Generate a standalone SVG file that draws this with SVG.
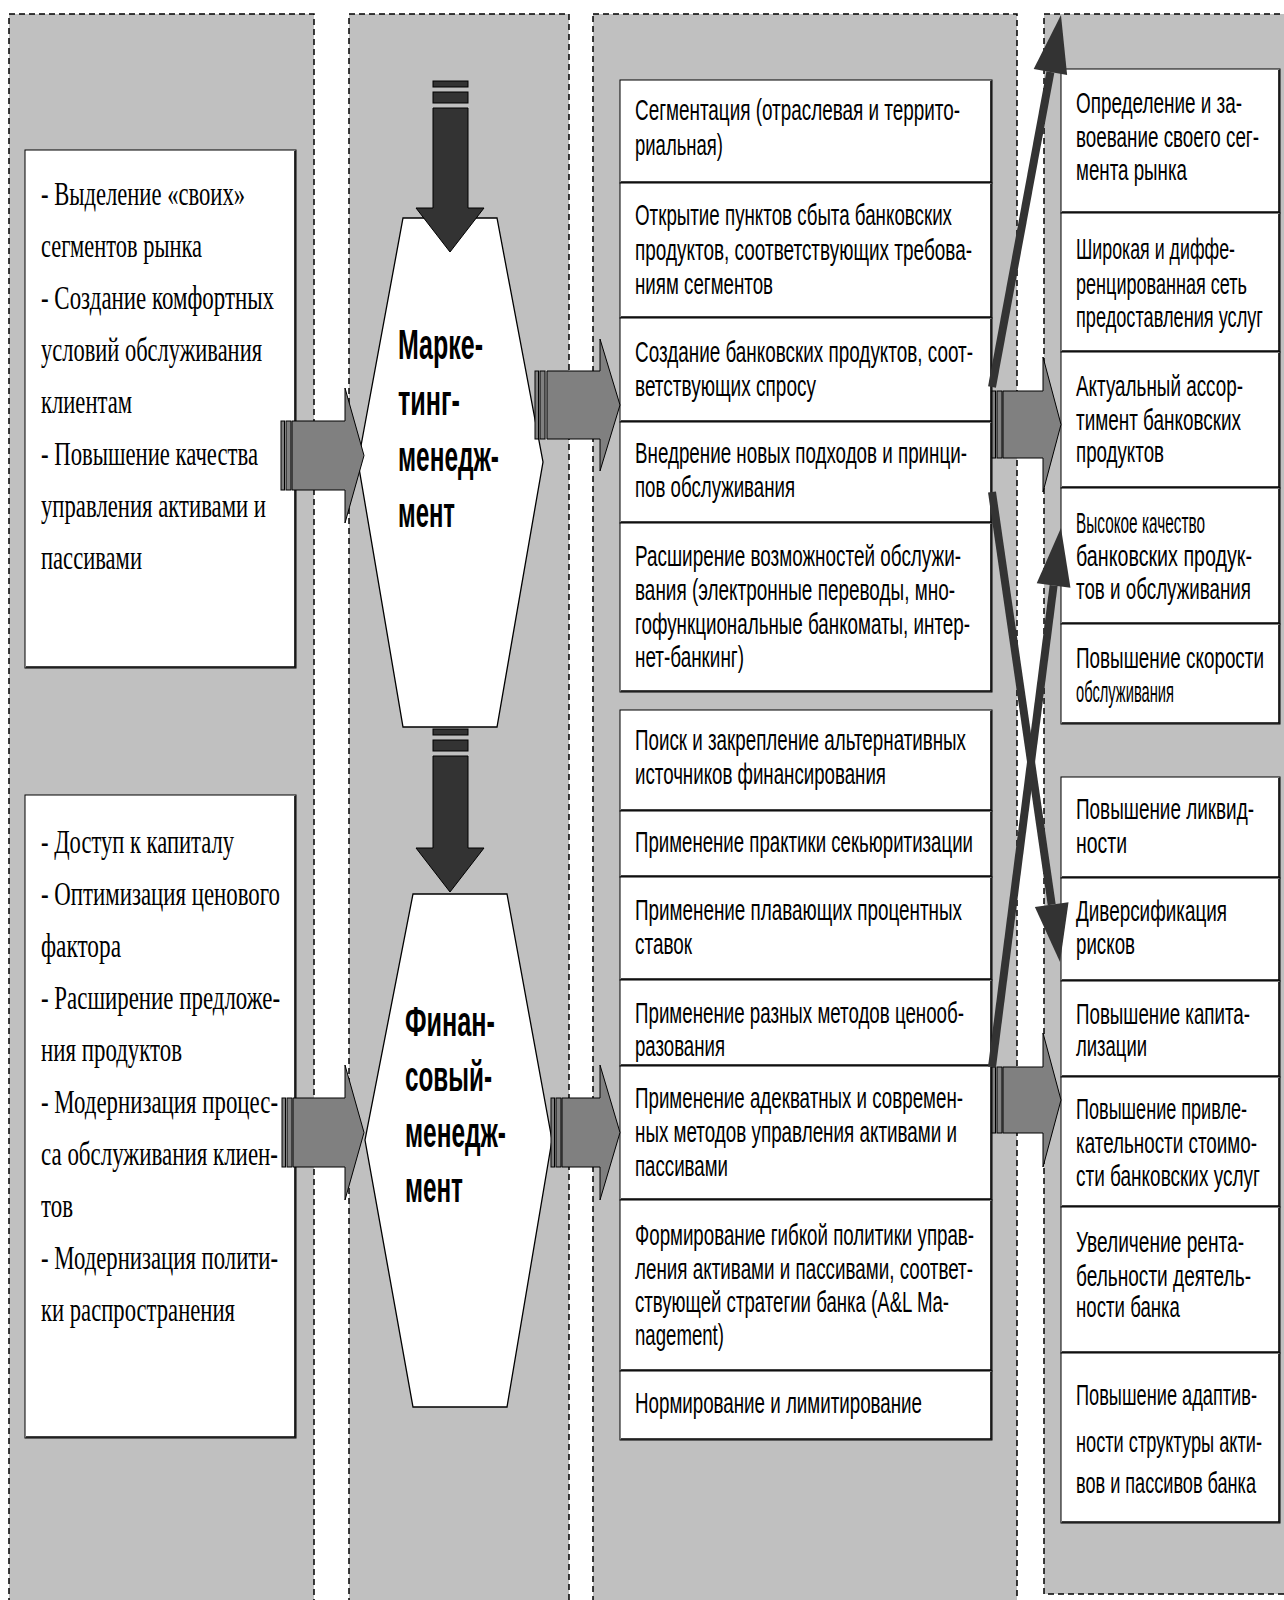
<svg xmlns="http://www.w3.org/2000/svg" width="1284" height="1600" viewBox="0 0 1284 1600">
<style>
.col{fill:#c0c0c0;stroke:#000;stroke-width:1.5;stroke-dasharray:6 4}
.box{fill:#fff;stroke:#000;stroke-width:1}
.sh{fill:none;stroke:#000;stroke-width:1.6}
.hex{fill:#fff;stroke:#000;stroke-width:1.3}
.ga{fill:#808080;stroke:#000;stroke-width:1}
.da{fill:#333;stroke:#000;stroke-width:1}
.ln{fill:none;stroke:#333;stroke-width:8}
.t{font-family:"Liberation Sans",Arial,sans-serif;font-size:29px;fill:#000}
.s{font-family:"Liberation Serif","Times New Roman",serif;font-size:34px;fill:#000}
.h{font-family:"Liberation Sans",Arial,sans-serif;font-size:43px;font-weight:bold;fill:#000}
</style>
<defs>
<marker id="ah" markerUnits="userSpaceOnUse" viewBox="0 -17 58 34" markerWidth="58" markerHeight="34" refX="0" refY="0" orient="auto" overflow="visible">
<path d="M0,-17 L58,0 L0,17 Z" fill="#333"/>
</marker>
</defs>

<g id="columns">
<rect class="col" x="9" y="14" width="305" height="1620"/>
<rect class="col" x="349" y="14" width="220" height="1620"/>
<rect class="col" x="593" y="14" width="424" height="1620"/>
<rect class="col" x="1044" y="14" width="260" height="1580"/>
</g>

<g id="left-marketing">
<rect class="box" x="25" y="150" width="271" height="518"/>
<path class="sh" d="M26,667 H295 V151"/>
<text class="s" x="41" y="205" textLength="204" lengthAdjust="spacingAndGlyphs">- Выделение «своих»</text>
<text class="s" x="41" y="257" textLength="161" lengthAdjust="spacingAndGlyphs">сегментов рынка</text>
<text class="s" x="41" y="309" textLength="233" lengthAdjust="spacingAndGlyphs">- Создание комфортных</text>
<text class="s" x="41" y="361" textLength="221" lengthAdjust="spacingAndGlyphs">условий обслуживания</text>
<text class="s" x="41" y="413" textLength="91" lengthAdjust="spacingAndGlyphs">клиентам</text>
<text class="s" x="41" y="465" textLength="217" lengthAdjust="spacingAndGlyphs">- Повышение качества</text>
<text class="s" x="41" y="517" textLength="225" lengthAdjust="spacingAndGlyphs">управления активами и</text>
<text class="s" x="41" y="569" textLength="101" lengthAdjust="spacingAndGlyphs">пассивами</text>
</g>

<g id="left-finance">
<rect class="box" x="25" y="795" width="271" height="643"/>
<path class="sh" d="M26,1437 H295 V796"/>
<text class="s" x="41" y="853" textLength="193" lengthAdjust="spacingAndGlyphs">- Доступ к капиталу</text>
<text class="s" x="41" y="905" textLength="239" lengthAdjust="spacingAndGlyphs">- Оптимизация ценового</text>
<text class="s" x="41" y="957" textLength="80" lengthAdjust="spacingAndGlyphs">фактора</text>
<text class="s" x="41" y="1009" textLength="239" lengthAdjust="spacingAndGlyphs">- Расширение предложе-</text>
<text class="s" x="41" y="1061" textLength="141" lengthAdjust="spacingAndGlyphs">ния продуктов</text>
<text class="s" x="41" y="1113" textLength="237" lengthAdjust="spacingAndGlyphs">- Модернизация процес-</text>
<text class="s" x="41" y="1165" textLength="237" lengthAdjust="spacingAndGlyphs">са обслуживания клиен-</text>
<text class="s" x="41" y="1217" textLength="32" lengthAdjust="spacingAndGlyphs">тов</text>
<text class="s" x="41" y="1269" textLength="237" lengthAdjust="spacingAndGlyphs">- Модернизация полити-</text>
<text class="s" x="41" y="1321" textLength="194" lengthAdjust="spacingAndGlyphs">ки распространения</text>
</g>

<g id="hex-marketing">
<polygon class="hex" points="403,218 497,218 543,462 497,727 403,727 358,462"/>
<text class="h" x="398" y="359" textLength="85" lengthAdjust="spacingAndGlyphs">Марке-</text>
<text class="h" x="398" y="415" textLength="62" lengthAdjust="spacingAndGlyphs">тинг-</text>
<text class="h" x="398" y="471" textLength="101" lengthAdjust="spacingAndGlyphs">менедж-</text>
<text class="h" x="398" y="527" textLength="57" lengthAdjust="spacingAndGlyphs">мент</text>
</g>

<g id="hex-finance">
<polygon class="hex" points="413,894 507,894 552,1140 507,1407 413,1407 365,1140"/>
<text class="h" x="405" y="1036" textLength="90" lengthAdjust="spacingAndGlyphs">Финан-</text>
<text class="h" x="405" y="1091" textLength="87" lengthAdjust="spacingAndGlyphs">совый-</text>
<text class="h" x="405" y="1147" textLength="101" lengthAdjust="spacingAndGlyphs">менедж-</text>
<text class="h" x="405" y="1202" textLength="58" lengthAdjust="spacingAndGlyphs">мент</text>
</g>

<g id="m1"><rect class="box" x="620" y="80" width="372" height="103"/><path class="sh" d="M621,182 H991 V81"/>
<text class="t" x="635" y="120" textLength="325" lengthAdjust="spacingAndGlyphs">Сегментация (отраслевая и террито-</text>
<text class="t" x="635" y="155" textLength="88" lengthAdjust="spacingAndGlyphs">риальная)</text></g>
<g id="m2"><rect class="box" x="620" y="183" width="372" height="135"/><path class="sh" d="M621,317 H991 V184"/>
<text class="t" x="635" y="225" textLength="317" lengthAdjust="spacingAndGlyphs">Открытие пунктов сбыта банковских</text>
<text class="t" x="635" y="260" textLength="337" lengthAdjust="spacingAndGlyphs">продуктов, соответствующих требова-</text>
<text class="t" x="635" y="294" textLength="138" lengthAdjust="spacingAndGlyphs">ниям сегментов</text></g>
<g id="m3"><rect class="box" x="620" y="318" width="372" height="104"/><path class="sh" d="M621,421 H991 V319"/>
<text class="t" x="635" y="362" textLength="338" lengthAdjust="spacingAndGlyphs">Создание банковских продуктов, соот-</text>
<text class="t" x="635" y="396" textLength="181" lengthAdjust="spacingAndGlyphs">ветствующих спросу</text></g>
<g id="m4"><rect class="box" x="620" y="422" width="372" height="101"/><path class="sh" d="M621,522 H991 V423"/>
<text class="t" x="635" y="463" textLength="332" lengthAdjust="spacingAndGlyphs">Внедрение новых подходов и принци-</text>
<text class="t" x="635" y="497" textLength="160" lengthAdjust="spacingAndGlyphs">пов обслуживания</text></g>
<g id="m5"><rect class="box" x="620" y="523" width="372" height="169"/><path class="sh" d="M621,691 H991 V524"/>
<text class="t" x="635" y="566" textLength="326" lengthAdjust="spacingAndGlyphs">Расширение возможностей обслужи-</text>
<text class="t" x="635" y="600" textLength="320" lengthAdjust="spacingAndGlyphs">вания (электронные переводы, мно-</text>
<text class="t" x="635" y="634" textLength="335" lengthAdjust="spacingAndGlyphs">гофункциональные банкоматы, интер-</text>
<text class="t" x="635" y="667" textLength="109" lengthAdjust="spacingAndGlyphs">нет-банкинг)</text></g>

<g id="f1"><rect class="box" x="620" y="710" width="372" height="101"/><path class="sh" d="M621,810 H991 V711"/>
<text class="t" x="635" y="750" textLength="331" lengthAdjust="spacingAndGlyphs">Поиск и закрепление альтернативных</text>
<text class="t" x="635" y="784" textLength="251" lengthAdjust="spacingAndGlyphs">источников финансирования</text></g>
<g id="f2"><rect class="box" x="620" y="811" width="372" height="66"/><path class="sh" d="M621,876 H991 V812"/>
<text class="t" x="635" y="852" textLength="338" lengthAdjust="spacingAndGlyphs">Применение практики секьюритизации</text></g>
<g id="f3"><rect class="box" x="620" y="877" width="372" height="103"/><path class="sh" d="M621,979 H991 V878"/>
<text class="t" x="635" y="920" textLength="327" lengthAdjust="spacingAndGlyphs">Применение плавающих процентных</text>
<text class="t" x="635" y="954" textLength="57" lengthAdjust="spacingAndGlyphs">ставок</text></g>
<g id="f4"><rect class="box" x="620" y="980" width="372" height="86"/><path class="sh" d="M621,1065 H991 V981"/>
<text class="t" x="635" y="1023" textLength="329" lengthAdjust="spacingAndGlyphs">Применение разных методов ценооб-</text>
<text class="t" x="635" y="1056" textLength="90" lengthAdjust="spacingAndGlyphs">разования</text></g>
<g id="f5"><rect class="box" x="620" y="1066" width="372" height="134"/><path class="sh" d="M621,1199 H991 V1067"/>
<text class="t" x="635" y="1108" textLength="328" lengthAdjust="spacingAndGlyphs">Применение адекватных и современ-</text>
<text class="t" x="635" y="1142" textLength="322" lengthAdjust="spacingAndGlyphs">ных методов управления активами и</text>
<text class="t" x="635" y="1176" textLength="93" lengthAdjust="spacingAndGlyphs">пассивами</text></g>
<g id="f6"><rect class="box" x="620" y="1200" width="372" height="171"/><path class="sh" d="M621,1370 H991 V1201"/>
<text class="t" x="635" y="1245" textLength="339" lengthAdjust="spacingAndGlyphs">Формирование гибкой политики управ-</text>
<text class="t" x="635" y="1279" textLength="338" lengthAdjust="spacingAndGlyphs">ления активами и пассивами, соответ-</text>
<text class="t" x="635" y="1312" textLength="314" lengthAdjust="spacingAndGlyphs">ствующей стратегии банка (A&amp;L Ma-</text>
<text class="t" x="635" y="1345" textLength="89" lengthAdjust="spacingAndGlyphs">nagement)</text></g>
<g id="f7"><rect class="box" x="620" y="1371" width="372" height="69"/><path class="sh" d="M621,1439 H991 V1372"/>
<text class="t" x="635" y="1413" textLength="287" lengthAdjust="spacingAndGlyphs">Нормирование и лимитирование</text></g>

<g id="r1"><rect class="box" x="1061" y="69" width="219" height="144"/><path class="sh" d="M1062,212 H1279 V70"/>
<text class="t" x="1076" y="113" textLength="166" lengthAdjust="spacingAndGlyphs">Определение и за-</text>
<text class="t" x="1076" y="147" textLength="183" lengthAdjust="spacingAndGlyphs">воевание своего сег-</text>
<text class="t" x="1076" y="180" textLength="111" lengthAdjust="spacingAndGlyphs">мента рынка</text></g>
<g id="r2"><rect class="box" x="1061" y="213" width="219" height="139"/><path class="sh" d="M1062,351 H1279 V214"/>
<text class="t" x="1076" y="259" textLength="159" lengthAdjust="spacingAndGlyphs">Широкая и диффе-</text>
<text class="t" x="1076" y="294" textLength="171" lengthAdjust="spacingAndGlyphs">ренцированная сеть</text>
<text class="t" x="1076" y="327" textLength="187" lengthAdjust="spacingAndGlyphs">предоставления услуг</text></g>
<g id="r3"><rect class="box" x="1061" y="352" width="219" height="136"/><path class="sh" d="M1062,487 H1279 V353"/>
<text class="t" x="1076" y="396" textLength="167" lengthAdjust="spacingAndGlyphs">Актуальный ассор-</text>
<text class="t" x="1076" y="430" textLength="165" lengthAdjust="spacingAndGlyphs">тимент банковских</text>
<text class="t" x="1076" y="462" textLength="88" lengthAdjust="spacingAndGlyphs">продуктов</text></g>
<g id="r4"><rect class="box" x="1061" y="488" width="219" height="136"/><path class="sh" d="M1062,623 H1279 V489"/>
<text class="t" x="1076" y="533" textLength="129" lengthAdjust="spacingAndGlyphs">Высокое качество</text>
<text class="t" x="1076" y="566" textLength="176" lengthAdjust="spacingAndGlyphs">банковских продук-</text>
<text class="t" x="1076" y="599" textLength="175" lengthAdjust="spacingAndGlyphs">тов и обслуживания</text></g>
<g id="r5"><rect class="box" x="1061" y="624" width="219" height="100"/><path class="sh" d="M1062,723 H1279 V625"/>
<text class="t" x="1076" y="668" textLength="188" lengthAdjust="spacingAndGlyphs">Повышение скорости</text>
<text class="t" x="1076" y="702" textLength="98" lengthAdjust="spacingAndGlyphs">обслуживания</text></g>

<g id="r6"><rect class="box" x="1061" y="777" width="219" height="101"/><path class="sh" d="M1062,877 H1279 V778"/>
<text class="t" x="1076" y="819" textLength="178" lengthAdjust="spacingAndGlyphs">Повышение ликвид-</text>
<text class="t" x="1076" y="853" textLength="51" lengthAdjust="spacingAndGlyphs">ности</text></g>
<g id="r7"><rect class="box" x="1061" y="878" width="219" height="103"/><path class="sh" d="M1062,980 H1279 V879"/>
<text class="t" x="1076" y="921" textLength="151" lengthAdjust="spacingAndGlyphs">Диверсификация</text>
<text class="t" x="1076" y="954" textLength="59" lengthAdjust="spacingAndGlyphs">рисков</text></g>
<g id="r8"><rect class="box" x="1061" y="981" width="219" height="96"/><path class="sh" d="M1062,1076 H1279 V982"/>
<text class="t" x="1076" y="1024" textLength="174" lengthAdjust="spacingAndGlyphs">Повышение капита-</text>
<text class="t" x="1076" y="1056" textLength="71" lengthAdjust="spacingAndGlyphs">лизации</text></g>
<g id="r9"><rect class="box" x="1061" y="1077" width="219" height="130"/><path class="sh" d="M1062,1206 H1279 V1078"/>
<text class="t" x="1076" y="1119" textLength="171" lengthAdjust="spacingAndGlyphs">Повышение привле-</text>
<text class="t" x="1076" y="1153" textLength="181" lengthAdjust="spacingAndGlyphs">кательности стоимо-</text>
<text class="t" x="1076" y="1186" textLength="184" lengthAdjust="spacingAndGlyphs">сти банковских услуг</text></g>
<g id="r10"><rect class="box" x="1061" y="1207" width="219" height="146"/><path class="sh" d="M1062,1352 H1279 V1208"/>
<text class="t" x="1076" y="1252" textLength="168" lengthAdjust="spacingAndGlyphs">Увеличение рента-</text>
<text class="t" x="1076" y="1286" textLength="175" lengthAdjust="spacingAndGlyphs">бельности деятель-</text>
<text class="t" x="1076" y="1317" textLength="104" lengthAdjust="spacingAndGlyphs">ности банка</text></g>
<g id="r11"><rect class="box" x="1061" y="1353" width="219" height="170"/><path class="sh" d="M1062,1522 H1279 V1354"/>
<text class="t" x="1076" y="1405" textLength="181" lengthAdjust="spacingAndGlyphs">Повышение адаптив-</text>
<text class="t" x="1076" y="1452" textLength="186" lengthAdjust="spacingAndGlyphs">ности структуры акти-</text>
<text class="t" x="1076" y="1493" textLength="180" lengthAdjust="spacingAndGlyphs">вов и пассивов банка</text></g>

<g id="connectors">
<g id="arr-left-m">
<rect class="ga" x="281" y="421" width="3.5" height="69"/><rect class="ga" x="286" y="421" width="5" height="69"/>
<path class="ga" d="M292,421 H345 V388 L364,455.5 L345,523 V490 H292 Z"/></g>
<g id="arr-left-f">
<rect class="ga" x="282" y="1098" width="3.5" height="69"/><rect class="ga" x="287" y="1098" width="5" height="69"/>
<path class="ga" d="M293,1098 H345 V1065 L364,1132.5 L345,1200 V1167 H293 Z"/></g>
<g id="arr-right-m">
<rect class="ga" x="535" y="371" width="3.5" height="68"/><rect class="ga" x="540" y="371" width="5" height="68"/>
<path class="ga" d="M547,371 H600 V339 L620,405 L600,471 V439 H547 Z"/></g>
<g id="arr-right-f">
<rect class="ga" x="551" y="1098" width="3.5" height="69"/><rect class="ga" x="556" y="1098" width="5" height="69"/>
<path class="ga" d="M562,1098 H600 V1065 L620,1132.5 L600,1200 V1167 H562 Z"/></g>
<g id="arr-res-m">
<rect class="ga" x="992" y="391" width="3.5" height="67"/><rect class="ga" x="997" y="391" width="5" height="67"/>
<path class="ga" d="M1003,391 H1043 V357 L1061,424.5 L1043,492 V458 H1003 Z"/></g>
<g id="arr-res-f">
<rect class="ga" x="992" y="1067" width="3.5" height="66"/><rect class="ga" x="997" y="1067" width="5" height="66"/>
<path class="ga" d="M1003,1067 H1043 V1033 L1061,1100 L1043,1167 V1133 H1003 Z"/></g>
<g id="arr-down-top">
<rect class="da" x="433" y="81" width="35" height="6"/><rect class="da" x="433" y="92" width="35" height="11"/>
<path class="da" d="M433,108 H468 V208 H484 L450,252 L416,208 H433 Z"/></g>
<g id="arr-down-mid">
<rect class="da" x="433" y="729" width="35" height="6"/><rect class="da" x="433" y="740" width="35" height="11"/>
<path class="da" d="M433,756 H468 V848 H484 L450,892 L416,848 H433 Z"/></g>
<line class="ln" x1="992" y1="387" x2="1050.4" y2="72" marker-end="url(#ah)"/>
<line class="ln" x1="992" y1="492" x2="1051.7" y2="904.6" marker-end="url(#ah)"/>
<line class="ln" x1="992" y1="1067" x2="1053.6" y2="585.5" marker-end="url(#ah)"/>
</g>
</svg>
